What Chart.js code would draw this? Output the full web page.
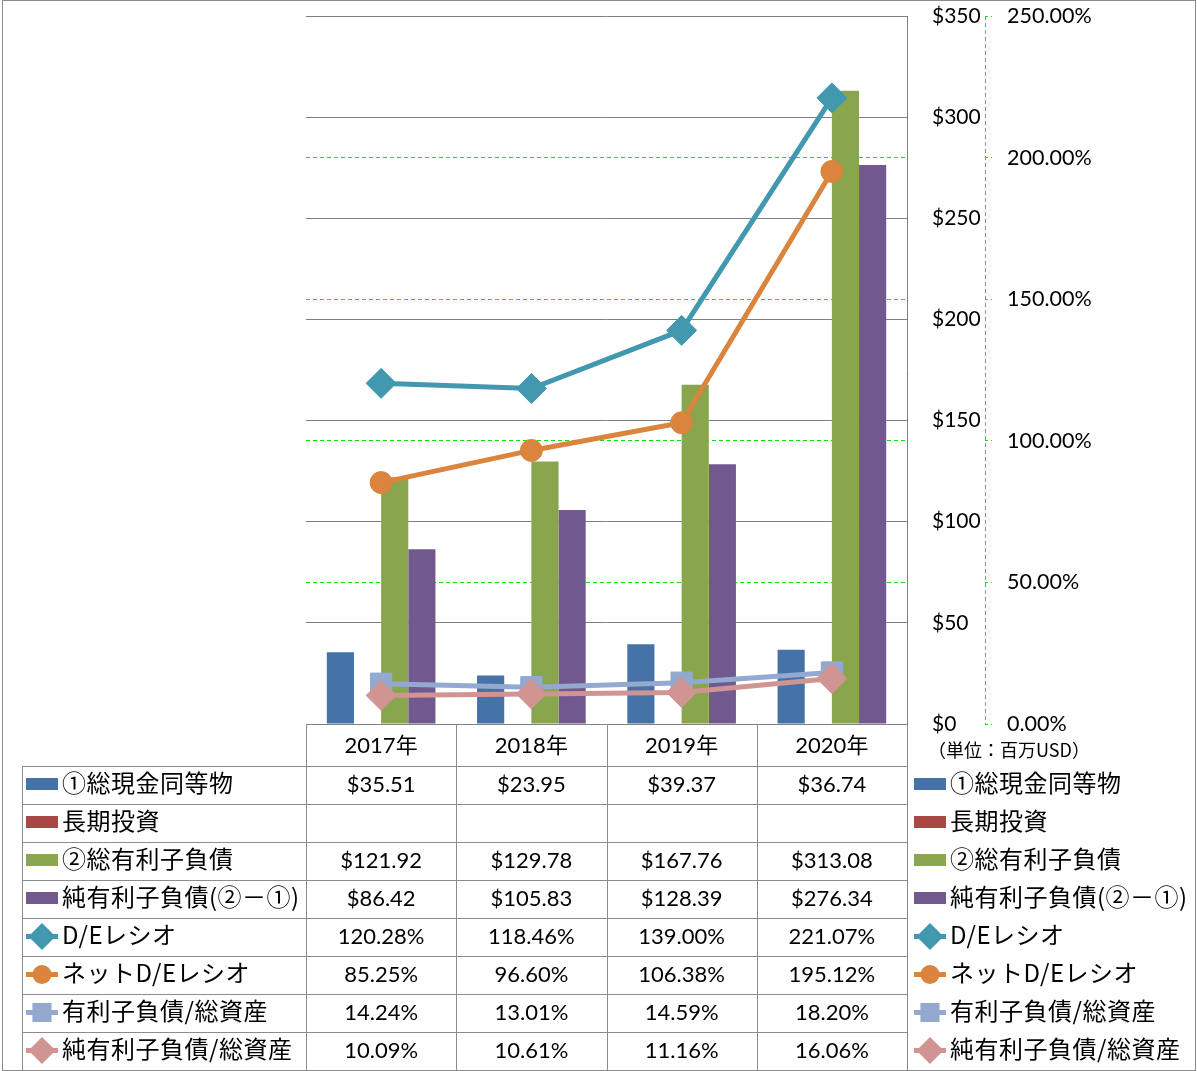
<!DOCTYPE html>
<html>
<head>
<meta charset="utf-8">
<script src="https://cdn.jsdelivr.net/npm/chart.js@4.4.0/dist/chart.umd.min.js"></script>
<style>
  html, body { margin: 0; padding: 0; background: #fff; }
  #wrap { position: relative; width: 1197px; height: 1071px; overflow: hidden; font-family: Lato, "Noto Sans CJK JP", sans-serif; color: #000; }
  #chart { position: absolute; left: 0; top: 0; }
  .frame { position: absolute; left: 2px; top: 0; width: 1194px; height: 1071px; box-sizing: border-box; border: 1px solid #8c8c8c; }
  .line { position: absolute; background: #8c8c8c; }
  .cell { position: absolute; text-align: center; font-size: 22px; white-space: nowrap; }
  .label { position: absolute; font-family: "Noto Sans CJK JP", sans-serif; font-size: 24px; letter-spacing: 0.5px; white-space: nowrap; }
  .key { position: absolute; }
  .unit { position: absolute; left: 928px; top: 736px; font-family: "Noto Sans CJK JP", sans-serif; font-size: 18px; line-height: 26px; white-space: nowrap; }
</style>
</head>
<body>
<div id="wrap">
  <canvas id="chart" width="1197" height="1071"></canvas>
  <div class="frame"></div>
  <div class="unit">（単位：百万USD）</div>
</div>
<script>
// data
const years = ['2017年', '2018年', '2019年', '2020年'];
const cashEquivalents = [35.51, 23.95, 39.37, 36.74];
const longTermInvestments = [null, null, null, null];
const totalDebt = [121.92, 129.78, 167.76, 313.08];
const netDebt = [86.42, 105.83, 128.39, 276.34];
const deRatio = [120.28, 118.46, 139.00, 221.07];
const netDeRatio = [85.25, 96.60, 106.38, 195.12];
const debtToAssets = [14.24, 13.01, 14.59, 18.20];
const netDebtToAssets = [10.09, 10.61, 11.16, 16.06];
const dollarTicks = [0, 50, 100, 150, 200, 250, 300, 350];
const percentTicks = [0, 50, 100, 150, 200, 250];

const GREEN = '#00e600';
const GRID = '#808080';

const series = [
  { name: '①総現金同等物', data: cashEquivalents, type: 'bar', fmt: 'usd', color: '#4572A7' },
  { name: '長期投資', data: longTermInvestments, type: 'bar', fmt: 'usd', color: '#AA4643' },
  { name: '②総有利子負債', data: totalDebt, type: 'bar', fmt: 'usd', color: '#89A54E' },
  { name: '純有利子負債(②－①)', data: netDebt, type: 'bar', fmt: 'usd', color: '#71588F' },
  { name: 'D/Eレシオ', data: deRatio, type: 'line', fmt: 'pct', color: '#4198AF', point: 'rectRot', radius: 15, order: 4 },
  { name: 'ネットD/Eレシオ', data: netDeRatio, type: 'line', fmt: 'pct', color: '#DB843D', point: 'circle', radius: 11, order: 3 },
  { name: '有利子負債/総資産', data: debtToAssets, type: 'line', fmt: 'pct', color: '#93A9CF', point: 'rect', radius: 15, order: 2 },
  { name: '純有利子負債/総資産', data: netDebtToAssets, type: 'line', fmt: 'pct', color: '#D09493', point: 'rectRot', radius: 15, order: 1 }
];

const datasets = series.map(s => {
  if (s.type === 'bar') {
    return {
      type: 'bar', label: s.name, data: s.data, yAxisID: 'y', order: 10,
      backgroundColor: s.color, borderWidth: 0,
      barPercentage: 1, categoryPercentage: 0.723
    };
  }
  return {
    type: 'line', label: s.name, data: s.data, yAxisID: 'y2', order: s.order,
    borderColor: s.color, backgroundColor: s.color, borderWidth: 5,
    pointStyle: s.point, pointRadius: s.radius, pointBorderWidth: 1,
    pointBackgroundColor: s.color, pointBorderColor: s.color, tension: 0
  };
});

const dashedAxisLine = {
  id: 'dashedAxisLine',
  afterDraw(chart) {
    const s = chart.scales.y2;
    const ctx = chart.ctx;
    ctx.save();
    ctx.strokeStyle = GREEN;
    ctx.lineWidth = 1;
    ctx.setLineDash([4, 3]);
    ctx.beginPath();
    ctx.moveTo(Math.round(s.left) + 0.5, s.top);
    ctx.lineTo(Math.round(s.left) + 0.5, s.bottom);
    ctx.stroke();
    ctx.restore();
  }
};

const tickFont = { family: 'Lato', size: 21 };

new Chart(document.getElementById('chart').getContext('2d'), {
  data: { labels: years, datasets: datasets },
  plugins: [dashedAxisLine],
  options: {
    responsive: false,
    animation: false,
    devicePixelRatio: 1,
    layout: { padding: { left: 306, top: 15, right: 0, bottom: 347 } },
    plugins: { legend: { display: false }, tooltip: { enabled: false } },
    scales: {
      x: { type: 'category', display: false, offset: true },
      y: {
        position: 'right', min: 0, max: 350,
        afterBuildTicks: sc => { sc.ticks = dollarTicks.map(v => ({ value: v })); },
        afterFit: sc => { sc.width = 78; sc.paddingTop = 0; sc.paddingBottom = 0; },
        grid: { color: GRID, lineWidth: 1, drawTicks: false },
        border: { display: true, color: GRID, width: 1 },
        ticks: { padding: 25, color: '#000', font: tickFont, callback: v => '$' + v }
      },
      y2: {
        position: 'right', weight: 1, min: 0, max: 250,
        afterBuildTicks: sc => { sc.ticks = percentTicks.map(v => ({ value: v })); },
        afterFit: sc => { sc.width = 212; sc.paddingTop = 0; sc.paddingBottom = 0; },
        grid: {
          color: c => (c.tick && (c.tick.value === 0 || c.tick.value === 250)) ? 'rgba(0,0,0,0)' : GREEN,
          tickColor: GREEN, lineWidth: 1, tickLength: 7, tickBorderDash: [3, 3]
        },
        border: { display: false, dash: [4, 3] },
        ticks: { padding: 15, color: '#000', font: { family: 'Lato', size: 21.5 }, callback: v => v.toFixed(2) + '%' }
      }
    }
  }
});

// data table under the plot
const wrap = document.getElementById('wrap');
const plotLeft = 306, plotRight = 907, headTop = 724, bodyTop = 766, rowH = 38;
const colW = (plotRight - plotLeft) / years.length;

function addLine(x, y, w, h) {
  const d = document.createElement('div');
  d.className = 'line';
  d.style.left = x + 'px'; d.style.top = y + 'px';
  d.style.width = w + 'px'; d.style.height = h + 'px';
  wrap.appendChild(d);
}
function addCell(text, x, y, w, h, cls) {
  const d = document.createElement('div');
  d.className = cls;
  d.textContent = text;
  d.style.left = x + 'px'; d.style.top = y + 'px';
  if (w) d.style.width = w + 'px';
  d.style.height = h + 'px';
  d.style.lineHeight = h + 'px';
  wrap.appendChild(d);
}
function addKey(s, x, y) {
  const c = document.createElement('canvas');
  c.width = 36; c.height = 30;
  c.className = 'key';
  c.style.left = x + 'px'; c.style.top = y + 'px';
  wrap.appendChild(c);
  const g = c.getContext('2d');
  g.fillStyle = s.color; g.strokeStyle = s.color;
  if (s.type === 'bar') {
    g.fillRect(2, 9, 32, 12);
    return;
  }
  g.lineWidth = 5;
  g.beginPath(); g.moveTo(2, 15.5); g.lineTo(34, 15.5); g.stroke();
  Chart.helpers.drawPoint(g, { pointStyle: s.point, radius: Math.round(s.radius * 0.66), borderWidth: 1, rotation: 0 }, 18, 15.5);
  g.fill();
}

years.forEach((yr, i) => addCell(yr, plotLeft + i * colW, headTop, colW, bodyTop - headTop, 'cell'));
for (let i = 0; i <= years.length; i++) addLine(Math.round(plotLeft + i * colW), headTop, 1, 1070 - headTop);
for (let r = 0; r <= series.length; r++) addLine(22, bodyTop + r * rowH, plotRight - 22, 1);
addLine(22, bodyTop, 1, series.length * rowH);

series.forEach((s, r) => {
  const top = bodyTop + r * rowH;
  addKey(s, 24, top + 3);
  addCell(s.name, 62, top - 3, 0, rowH, 'label');
  addKey(s, 912, top + 3);
  addCell(s.name, 950, top - 3, 0, rowH, 'label');
  s.data.forEach((v, i) => {
    let t = '';
    if (v !== null) t = s.fmt === 'usd' ? '$' + v.toFixed(2) : v.toFixed(2) + '%';
    addCell(t, plotLeft + i * colW, top - 1, colW, rowH, 'cell');
  });
});
</script>
</body>
</html>
